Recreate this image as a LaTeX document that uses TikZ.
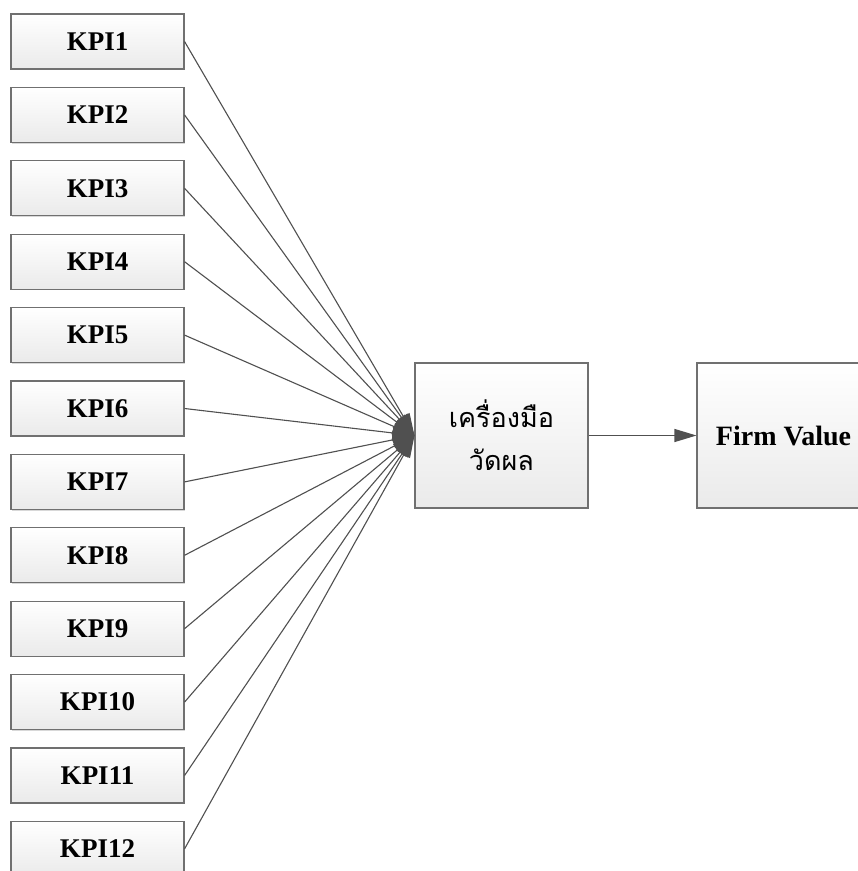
\documentclass[tikz,border=0pt]{standalone}
\usepackage{fontspec}
\setmainfont{Liberation Serif}
\newfontfamily\thaifont[Script=Thai]{Loma}
\usetikzlibrary{arrows.meta,shadows}
\definecolor{edgegray}{HTML}{707070}
\definecolor{linegray}{HTML}{505050}
\definecolor{boxbottom}{HTML}{EAEAEA}
\tikzset{
  kpibox/.style={draw=edgegray, line width=1.1pt, minimum width=173pt, minimum height=55pt,
    top color=white, bottom color=boxbottom, inner sep=0pt,
    drop shadow={shadow xshift=1.2pt, shadow yshift=-1.2pt, fill=black!25, opacity=0.6},
    font=\fontsize{27}{31}\selectfont\bfseries},
  bigbox/.style={kpibox, minimum height=145pt},
  feed/.style={draw=linegray, line width=1.1pt, -{Triangle[length=22pt,width=14pt]}},
  link/.style={draw=linegray, line width=1.2pt, -{Triangle[length=22pt,width=13pt]}}
}
\begin{document}
\begin{tikzpicture}[x=1pt,y=-1pt]
  \clip (0,0) rectangle (858,871);
  \fill[white] (0,0) rectangle (858,871);
  % column of indicators
  \foreach \i in {1,...,12}{
    \node[kpibox] (k\i) at (97.5, {41.5 + (\i-1)*73.4}) {KPI\i};
  }
  % measurement tool and outcome
  \node[bigbox, font=\thaifont\fontsize{27}{43}\selectfont, align=center] (tool) at (501.5,435.5)
    {เครื่องมือ\\วัดผล};
  \node[bigbox, font=\fontsize{28}{32}\selectfont\bfseries] (firm) at (783.5,435.5) {Firm Value};
  \coordinate (hub) at (tool.west);
  \foreach \i in {1,...,12}{
    \draw[feed] (k\i.east) -- (hub);
  }
  \draw[link] (tool.east) -- (firm.west);
\end{tikzpicture}
\end{document}
